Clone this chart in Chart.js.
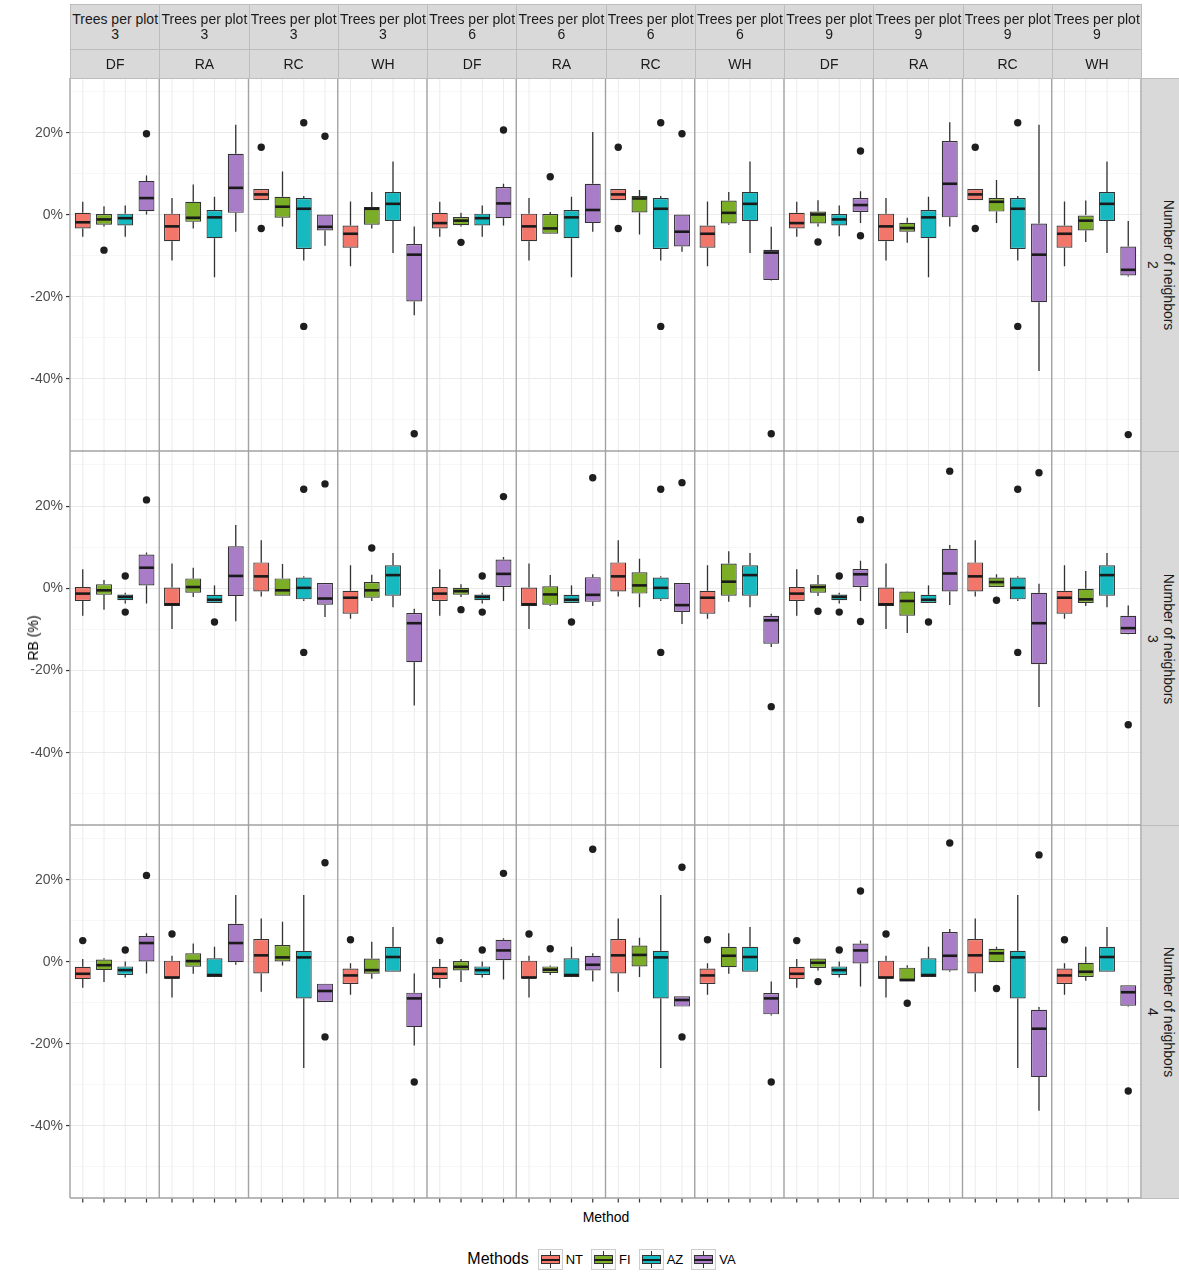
<!DOCTYPE html>
<html>
<head>
<meta charset="utf-8">
<title>Relative bias by method</title>
<script src="https://cdn.jsdelivr.net/npm/chart.js@4.4.1/dist/chart.umd.min.js"></script>
<style>
  html, body { margin: 0; padding: 0; background: #fff; }
  body { position: relative; width: 1179px; height: 1272px; overflow: hidden;
         font-family: "Liberation Sans", Arial, Helvetica, sans-serif; }
  .abs { position: absolute; }
  .strip { position: absolute; box-sizing: border-box; background: #d9d9d9;
           border: 1px solid #bdbdbd; color: #1a1a1a; font-size: 14px;
           text-align: center; white-space: nowrap; }
  .rstrip-text { position: absolute; left: 50%; top: 50%; line-height: 16px;
                 transform: translate(-50%, -50%) rotate(90deg); white-space: nowrap; text-align: center; }
  .title { position: absolute; color: #000; font-size: 14px; white-space: nowrap; }
  #legend { position: absolute; left: 70px; width: 1071px; top: 1248px; height: 22px;
            display: flex; justify-content: center; align-items: center; }
  #legend .lt { font-size: 16px; color: #000; margin-right: 9px; }
  #legend .key { position: relative; width: 25px; height: 21px; box-sizing: border-box;
                 border: 1px solid #cdcdcd; background: #fafafa; }
  #legend .key .wh { position: absolute; left: 11px; width: 1px; top: 1px; bottom: 1px; background: #333; }
  #legend .key .bx { position: absolute; left: 2px; right: 2px; top: 5px; bottom: 5px;
                     box-sizing: border-box; border: 1px solid #333; }
  #legend .key .md { position: absolute; left: 2px; right: 2px; top: 9px; height: 2px; background: #1a1a1a; }
  #legend .lab { font-size: 13px; color: #000; margin: 0 8px 0 3px; }
</style>
</head>
<body>
<script>
// ---- facets and categories ----
const treesPerPlot = ['3','3','3','3','6','6','6','6','9','9','9','9'];
const species      = ['DF','RA','RC','WH','DF','RA','RC','WH','DF','RA','RC','WH'];
const methods      = ['NT','FI','AZ','VA'];
const neighbors    = ['2','3','4'];
const yTickValues  = [-50, -40, -30, -20, -10, 0, 10, 20, 30];
const yLabelled    = [-40, -20, 0, 20];

// ---- box statistics: [lower whisker, Q1, median, Q3, upper whisker] per facet column ----
// Number of neighbors = 2
const NT_k2 = [
  [-5.3,-3.3,-1.8,0.5,3.2], [-11.1,-6.4,-2.8,0.3,4.1], [3.6,3.6,5.0,6.3,6.3], [-12.5,-8.0,-4.6,-2.6,3.3],
  [-5.3,-3.3,-2.0,0.5,3.2], [-11.1,-6.4,-2.8,0.3,4.1], [3.6,3.6,5.0,6.3,6.3], [-12.5,-8.0,-4.6,-2.6,3.3],
  [-5.3,-3.3,-2.0,0.5,3.2], [-11.1,-6.4,-2.8,0.3,4.1], [3.6,3.6,5.0,6.3,6.3], [-12.5,-8.0,-4.6,-2.6,3.3]
];
const FI_k2 = [
  [-2.8,-2.4,-1.1,0.2,2.1], [-3.3,-1.7,-0.7,3.2,7.4], [-2.8,-0.7,2.0,4.4,10.6], [-3.3,-2.4,1.5,1.9,5.6],
  [-2.8,-2.5,-1.4,-0.5,0.5], [-4.6,-4.6,-3.3,0.2,0.7], [-4.8,0.6,4.0,4.6,6.1], [-2.4,-2.1,0.5,3.5,5.6],
  [-2.8,-2.1,0.1,0.8,3.6], [-6.8,-4.1,-3.2,-1.9,-0.7], [-2.0,0.8,3.2,4.1,8.5], [-6.6,-3.8,-1.4,0.0,3.5]
];
const AZ_k2 = [
  [-5.3,-2.6,-0.8,0.3,2.3], [-15.2,-5.7,-0.6,1.2,4.4], [-11.1,-8.3,1.5,4.1,4.6], [-9.3,-1.5,2.7,5.6,13.0],
  [-5.3,-2.6,-0.8,0.3,2.3], [-15.2,-5.7,-0.6,1.2,4.4], [-11.1,-8.3,1.5,4.1,4.6], [-9.3,-1.5,2.7,5.6,13.0],
  [-5.2,-2.6,-1.1,0.2,2.3], [-15.2,-5.7,-0.6,1.2,4.4], [-11.1,-8.3,1.5,4.1,4.6], [-9.3,-1.5,2.7,5.6,13.0]
];
const VA_k2 = [
  [0.1,0.9,4.1,8.3,9.6], [-4.1,0.5,6.6,14.9,22.0], [-7.5,-3.8,-2.9,0.1,0.1], [-24.5,-21.1,-9.7,-7.1,-2.8],
  [-2.6,-0.8,2.8,6.8,7.6], [-4.1,-2.0,1.2,7.6,20.2], [-9.0,-7.7,-4.1,0.1,0.1], [-16.0,-15.9,-9.2,-8.5,-2.9],
  [-2.0,0.7,2.4,4.1,5.8], [-2.8,-0.6,7.6,18.0,22.6], [-38.1,-21.3,-9.7,-2.1,22.0], [-15.0,-14.8,-13.4,-7.7,-1.5]
];
const NT_k2_out = [[],[],[16.5,-3.3],[], [],[],[16.5,-3.3],[], [],[],[16.5,-3.3],[]];
const FI_k2_out = [[-8.6],[],[],[], [-6.7],[9.3],[],[], [-6.6],[],[],[]];
const AZ_k2_out = [[],[],[22.5,-27.2],[], [],[],[22.5,-27.2],[], [],[],[22.5,-27.2],[]];
const VA_k2_out = [[19.8],[],[19.2],[-53.4], [20.7],[],[19.8],[-53.4], [15.6,-5.1],[],[],[-53.6]];

// Number of neighbors = 3
const NT_k3 = [
  [-6.7,-3.1,-1.3,0.3,4.6], [-9.9,-4.3,-3.9,0.2,6.0], [-2.0,-0.8,2.9,6.3,11.7], [-7.4,-6.2,-2.3,-0.6,5.6],
  [-6.7,-3.1,-1.3,0.3,4.6], [-9.9,-4.3,-3.9,0.2,6.0], [-2.0,-0.8,2.9,6.3,11.7], [-7.4,-6.2,-2.3,-0.6,5.6],
  [-6.7,-3.1,-1.3,0.3,4.6], [-9.9,-4.3,-3.9,0.2,6.0], [-2.0,-0.8,2.9,6.3,11.7], [-7.4,-6.2,-2.3,-0.6,5.6]
];
const FI_k3 = [
  [-5.2,-1.6,-0.5,1.0,2.0], [-2.1,-1.1,0.3,2.4,5.0], [-1.8,-1.8,-0.5,2.4,5.9], [-3.1,-2.3,-0.5,1.5,3.3],
  [-2.1,-1.6,-0.7,0.1,1.0], [-4.3,-4.0,-1.5,0.5,3.2], [-4.6,-1.3,0.7,3.9,7.2], [-3.3,-1.8,1.6,6.0,9.0],
  [-1.9,-1.1,0.3,1.0,3.2], [-10.9,-6.7,-3.1,-0.8,-0.7], [0.3,0.3,1.5,2.6,3.4], [-4.3,-3.6,-2.7,-0.1,4.2]
];
const AZ_k3 = [
  [-3.7,-2.9,-2.1,-1.5,-1.1], [-3.6,-3.6,-2.8,-1.6,0.7], [-3.1,-2.7,0.1,2.6,2.9], [-4.6,-1.8,3.2,5.6,8.6],
  [-3.7,-2.9,-2.1,-1.5,-1.1], [-3.6,-3.6,-2.8,-1.6,0.7], [-3.1,-2.7,0.1,2.6,2.9], [-4.6,-1.8,3.2,5.6,8.6],
  [-3.7,-2.9,-2.1,-1.5,-1.1], [-3.6,-3.6,-2.8,-1.6,0.7], [-3.1,-2.7,0.1,2.6,2.9], [-4.6,-1.8,3.2,5.6,8.6]
];
const VA_k3 = [
  [-3.7,0.7,5.0,8.2,8.7], [-8.0,-1.9,3.0,10.2,15.4], [-7.0,-4.0,-2.5,1.3,1.3], [-28.5,-18.0,-8.5,-6.0,-5.0],
  [-3.1,0.3,3.5,7.0,7.6], [-4.3,-3.3,-1.6,2.7,3.4], [-8.7,-5.8,-4.1,1.3,1.3], [-14.3,-13.5,-7.8,-6.7,-6.2],
  [-3.1,0.3,3.4,4.7,6.7], [-4.1,-0.8,3.6,9.6,10.5], [-28.9,-18.5,-8.5,-1.1,1.1], [-11.2,-11.1,-9.7,-6.7,-4.2]
];
const NT_k3_out = [[],[],[],[], [],[],[],[], [],[],[],[]];
const FI_k3_out = [[],[],[],[9.8], [-5.2],[],[],[], [-5.6],[],[-2.9],[]];
const AZ_k3_out = [[3.0,-5.8],[-8.2],[24.1,-15.6],[], [3.0,-5.8],[-8.2],[24.1,-15.6],[], [3.0,-5.8],[-8.2],[24.1,-15.6],[]];
const VA_k3_out = [[21.5],[],[25.4],[], [22.3],[26.9],[25.7],[-28.8], [16.7,-8.1],[28.5],[28.1],[-33.2]];

// Number of neighbors = 4
const NT_k4 = [
  [-6.3,-4.2,-2.9,-1.2,0.7], [-8.7,-4.1,-3.8,0.3,1.5], [-7.3,-2.8,1.6,5.6,10.6], [-8.0,-5.4,-3.3,-1.6,-0.3],
  [-6.3,-4.2,-2.9,-1.2,0.7], [-8.7,-4.1,-3.8,0.3,1.5], [-7.3,-2.8,1.6,5.6,10.6], [-8.0,-5.4,-3.3,-1.6,-0.3],
  [-6.3,-4.2,-2.9,-1.2,0.7], [-8.7,-4.1,-3.8,0.3,1.5], [-7.3,-2.8,1.6,5.6,10.6], [-8.0,-5.4,-3.3,-1.6,-0.3]
];
const FI_k4 = [
  [-4.9,-2.0,-0.8,0.6,0.9], [-2.9,-1.2,0.2,2.1,4.5], [-0.9,0.1,1.1,4.1,9.8], [-4.1,-2.9,-2.0,0.8,4.9],
  [-4.9,-2.1,-1.2,0.2,0.7], [-3.2,-2.7,-1.9,-1.1,-0.9], [-3.7,-1.1,1.7,4.0,5.9], [-2.9,-1.3,1.5,3.7,7.0],
  [-2.1,-1.5,-0.2,0.8,0.9], [-4.8,-4.8,-4.4,-1.4,-0.8], [-0.1,-0.1,2.1,3.2,3.7], [-4.6,-3.7,-2.4,-0.2,3.7]
];
const AZ_k4 = [
  [-3.8,-3.2,-2.0,-1.1,0.1], [-3.7,-3.7,-3.2,0.9,3.7], [-25.9,-8.9,1.1,2.7,16.3], [-2.4,-2.4,1.2,3.7,8.5],
  [-3.8,-3.2,-2.0,-1.1,0.1], [-3.7,-3.7,-3.2,0.9,3.7], [-25.9,-8.9,1.1,2.7,16.3], [-2.4,-2.4,1.2,3.7,8.5],
  [-3.8,-3.2,-2.0,-1.1,0.1], [-3.7,-3.7,-3.2,0.9,3.7], [-25.9,-8.9,1.1,2.7,16.3], [-2.4,-2.4,1.2,3.7,8.5]
];
const VA_k4 = [
  [-2.8,0.1,4.6,6.3,7.0], [-0.7,-0.1,4.6,9.3,16.3], [-9.8,-9.8,-7.1,-5.3,-5.3], [-20.4,-15.9,-8.9,-7.5,-2.8],
  [-4.3,0.4,2.8,5.4,5.8], [-4.8,-2.1,-0.7,1.5,2.1], [-10.9,-10.9,-9.3,-8.4,-8.4], [-13.1,-12.8,-8.9,-7.6,-4.8],
  [-6.0,-0.4,2.8,4.5,5.2], [-2.4,-2.1,1.5,7.3,8.0], [-36.3,-28.1,-16.3,-11.7,-11.0], [-10.9,-10.7,-7.4,-5.7,-5.7]
];
const NT_k4_out = [[5.2],[6.8],[],[5.4], [5.2],[6.8],[],[5.4], [5.2],[6.8],[],[5.4]];
const FI_k4_out = [[],[],[],[], [],[3.2],[],[], [-4.8],[-10.1],[-6.5],[]];
const AZ_k4_out = [[2.9],[],[],[], [2.9],[],[],[], [2.9],[],[],[]];
const VA_k4_out = [[21.1],[],[24.2,-18.3],[-29.3], [21.6],[27.5],[23.1,-18.3],[-29.3], [17.3],[29.0],[26.1],[-31.5]];

// ---- lookup tables built from the arrays above ----
const stats = [
  { NT: NT_k2, FI: FI_k2, AZ: AZ_k2, VA: VA_k2 },
  { NT: NT_k3, FI: FI_k3, AZ: AZ_k3, VA: VA_k3 },
  { NT: NT_k4, FI: FI_k4, AZ: AZ_k4, VA: VA_k4 }
];
const outliers = [
  { NT: NT_k2_out, FI: FI_k2_out, AZ: AZ_k2_out, VA: VA_k2_out },
  { NT: NT_k3_out, FI: FI_k3_out, AZ: AZ_k3_out, VA: VA_k3_out },
  { NT: NT_k4_out, FI: FI_k4_out, AZ: AZ_k4_out, VA: VA_k4_out }
];

// ---- styling ----
const FONT = '"Liberation Sans", Arial, Helvetica, sans-serif';
const fills = { NT: '#F3766B', FI: '#7BAD27', AZ: '#16B9C0', VA: '#A87CC7' };
const PANEL_LEFT = 70, PANEL_RIGHT = 1141;
const ROW_TOP = [78, 451, 825], ROW_BOTTOM = [451, 825, 1198];
const Y_MIN = -57.6, Y_MAX = 33.4;

// Whiskers, medians, outliers, panel grid and borders drawn on the bar chart
const boxplotMarks = {
  id: 'boxplotMarks',
  beforeDatasetsDraw(chart) {
    const { ctx, chartArea: a } = chart;
    ctx.save();
    ctx.strokeStyle = '#ececec';
    ctx.lineWidth = 1;
    chart.data.datasets.forEach((ds, di) => {
      chart.getDatasetMeta(di).data.forEach(bar => {
        ctx.beginPath();
        ctx.moveTo(bar.x, a.top);
        ctx.lineTo(bar.x, a.bottom);
        ctx.stroke();
      });
    });
    ctx.restore();
  },
  afterDatasetsDraw(chart, args, opts) {
    const { ctx, chartArea: a, scales: { x, y } } = chart;
    ctx.save();
    chart.data.datasets.forEach((ds, di) => {
      const meta = chart.getDatasetMeta(di);
      meta.data.forEach((bar, i) => {
        const [lo, q1, med, q3, hi] = ds.boxStats[i];
        const cx = bar.x, hw = bar.width / 2;
        ctx.strokeStyle = '#333';
        ctx.lineWidth = 1.3;
        ctx.beginPath();
        ctx.moveTo(cx, y.getPixelForValue(q3)); ctx.lineTo(cx, y.getPixelForValue(hi));
        ctx.moveTo(cx, y.getPixelForValue(q1)); ctx.lineTo(cx, y.getPixelForValue(lo));
        ctx.stroke();
        const ym = y.getPixelForValue(med);
        ctx.strokeStyle = '#1a1a1a';
        ctx.lineWidth = 2.6;
        ctx.beginPath();
        ctx.moveTo(cx - hw + 0.6, ym); ctx.lineTo(cx + hw - 0.6, ym);
        ctx.stroke();
        ctx.fillStyle = '#1e1e1e';
        ds.boxOutliers[i].forEach(v => {
          ctx.beginPath();
          ctx.arc(cx, y.getPixelForValue(v), 3.7, 0, Math.PI * 2);
          ctx.fill();
        });
      });
    });
    // panel borders
    ctx.strokeStyle = '#a2a2a2';
    ctx.lineWidth = 1.4;
    ctx.beginPath();
    for (let i = 0; i <= chart.data.labels.length; i++) {
      const px = x.getPixelForValue(i - 0.5);
      ctx.moveTo(px, a.top); ctx.lineTo(px, a.bottom);
    }
    ctx.moveTo(a.left, a.top); ctx.lineTo(a.right, a.top);
    ctx.moveTo(a.left, a.bottom); ctx.lineTo(a.right, a.bottom);
    ctx.stroke();
    // method ticks under the bottom row
    if (opts.ticks) {
      ctx.strokeStyle = '#333';
      ctx.lineWidth = 1.2;
      ctx.beginPath();
      chart.data.datasets.forEach((ds, di) => {
        chart.getDatasetMeta(di).data.forEach(bar => {
          ctx.moveTo(bar.x, a.bottom + 0.7); ctx.lineTo(bar.x, a.bottom + 4.5);
        });
      });
      ctx.stroke();
    }
    ctx.restore();
  }
};

function el(tag, cls, style, html) {
  const d = document.createElement(tag);
  if (cls) d.className = cls;
  Object.assign(d.style, style || {});
  if (html !== undefined) d.innerHTML = html;
  document.body.appendChild(d);
  return d;
}

// one bar chart per neighbour row
neighbors.forEach((k, r) => {
  const last = r === neighbors.length - 1;
  const h = ROW_BOTTOM[r] - ROW_TOP[r];
  const wrap = el('div', 'abs', { left: '0px', top: ROW_TOP[r] + 'px' });
  const cv = document.createElement('canvas');
  cv.width = PANEL_RIGHT + 2;
  cv.height = h + (last ? 8 : 0);
  cv.style.width = cv.width + 'px';
  cv.style.height = cv.height + 'px';
  wrap.appendChild(cv);

  new Chart(cv, {
    type: 'bar',
    data: {
      labels: species.map((s, i) => treesPerPlot[i] + ' ' + s),
      datasets: methods.map(m => ({
        label: m,
        data: stats[r][m].map(s => [s[1], s[3]]),
        boxStats: stats[r][m],
        boxOutliers: outliers[r][m],
        backgroundColor: fills[m],
        borderColor: '#333333',
        borderWidth: 1.2,
        borderSkipped: false,
        inflateAmount: 0,
        categoryPercentage: 4 / 4.2,
        barPercentage: 0.75
      }))
    },
    options: {
      responsive: false,
      animation: false,
      devicePixelRatio: 1,
      layout: { padding: { left: 0, top: 0, right: 2, bottom: last ? 8 : 0 } },
      plugins: {
        legend: { display: false },
        tooltip: { enabled: false },
        boxplotMarks: { ticks: last }
      },
      scales: {
        x: { type: 'category', display: false, offset: true },
        y: {
          type: 'linear',
          min: Y_MIN, max: Y_MAX,
          afterBuildTicks: s => { s.ticks = yTickValues.map(v => ({ value: v })); },
          afterFit: s => { s.width = PANEL_LEFT; s.paddingTop = 0; s.paddingBottom = 0; },
          border: { display: false },
          grid: {
            color: c => yLabelled.includes(c.tick.value) ? '#ebebeb' : '#f5f5f5',
            lineWidth: c => yLabelled.includes(c.tick.value) ? 1.1 : 0.8,
            tickLength: 4,
            tickColor: c => yLabelled.includes(c.tick.value) ? '#333333' : 'rgba(0,0,0,0)',
            tickWidth: 1.2
          },
          ticks: {
            autoSkip: false,
            padding: 3,
            color: '#4d4d4d',
            font: { family: FONT, size: 14 },
            callback: v => yLabelled.includes(v) ? v + '%' : ''
          }
        }
      }
    },
    plugins: [boxplotMarks]
  });
});

// facet strips across the top
const colW = (PANEL_RIGHT - PANEL_LEFT) / species.length;
species.forEach((s, i) => {
  const left = PANEL_LEFT + i * colW;
  el('div', 'strip', { left: left + 'px', top: '4px', width: (colW + 1) + 'px', height: '46px',
                       lineHeight: '15px', paddingTop: '7px' }, 'Trees per plot<br>' + treesPerPlot[i]);
  el('div', 'strip', { left: left + 'px', top: '49px', width: (colW + 1) + 'px', height: '30px',
                       lineHeight: '28px' }, s);
});

// facet strips on the right
neighbors.forEach((k, r) => {
  const d = el('div', 'strip', { left: PANEL_RIGHT + 'px', top: ROW_TOP[r] + 'px', width: '40px',
                                 height: (ROW_BOTTOM[r] - ROW_TOP[r] + 1) + 'px' });
  const t = document.createElement('div');
  t.className = 'rstrip-text';
  t.innerHTML = 'Number of neighbors<br>' + k;
  d.appendChild(t);
});

// axis titles
el('div', 'title', { left: '33px', top: '638px', transform: 'translate(-50%, -50%) rotate(-90deg)' }, 'RB (%)');
el('div', 'title', { left: '606px', top: '1217px', transform: 'translate(-50%, -50%)' }, 'Method');

// legend
const lg = el('div', null, {});
lg.id = 'legend';
const lt = document.createElement('span');
lt.className = 'lt';
lt.textContent = 'Methods';
lg.appendChild(lt);
methods.forEach(m => {
  const key = document.createElement('div');
  key.className = 'key';
  key.innerHTML = '<div class="wh"></div><div class="bx" style="background:' + fills[m] + '"></div><div class="md"></div>';
  lg.appendChild(key);
  const lab = document.createElement('span');
  lab.className = 'lab';
  lab.textContent = m;
  lg.appendChild(lab);
});
</script>
</body>
</html>
